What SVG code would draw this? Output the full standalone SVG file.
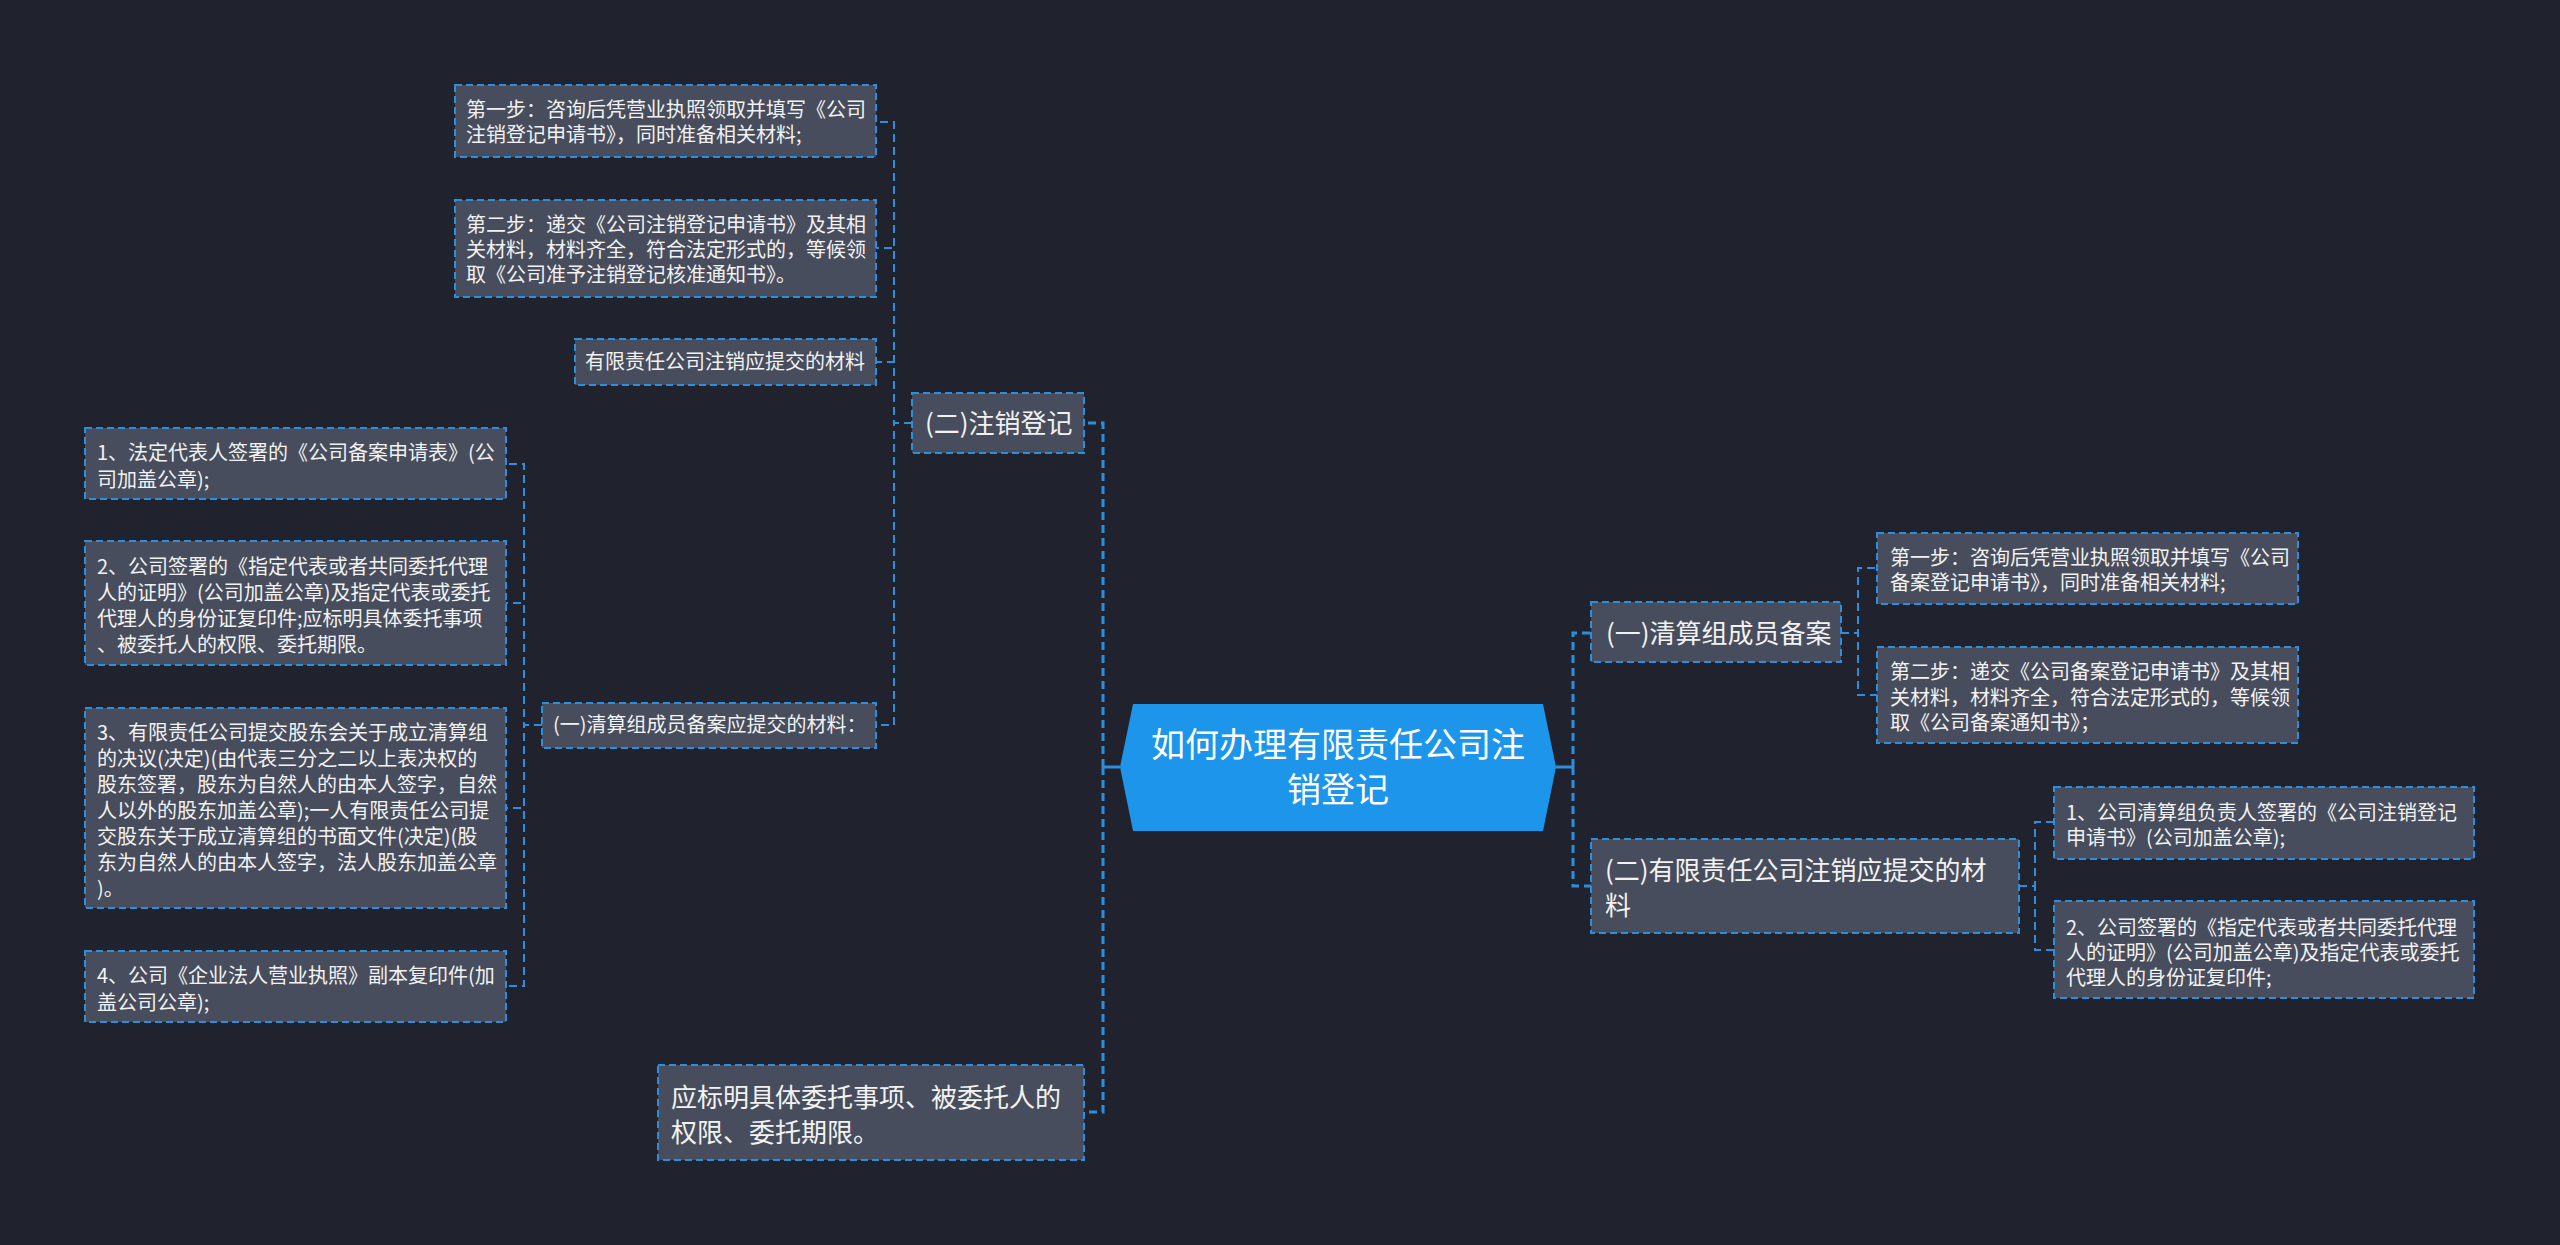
<svg xmlns="http://www.w3.org/2000/svg" width="2560" height="1245" viewBox="0 0 2560 1245">
<style>
.bg{fill:#20232e}
.box{fill:#474d5c;stroke:#2d8fdc;stroke-width:2;stroke-dasharray:7 4}
.t{font-family:"Noto Sans CJK SC","Noto Sans",sans-serif;fill:#f2f2f2}
.s{font-size:20px}
.m{font-size:26px}
.c{font-size:34px;fill:#ffffff}
.ln{fill:none;stroke:#2d8fdc;stroke-width:2;stroke-dasharray:8 5}
.ln1{fill:none;stroke:#2d8fdc;stroke-width:3;stroke-dasharray:8 5}
.solid{fill:none;stroke:#2d8fdc;stroke-width:3}
</style>
<rect class="bg" x="0" y="0" width="2560" height="1245"/>

<g id="connectors">
  <path class="solid" d="M1120,767 H1103"/>
  <path class="solid" d="M1556,767 H1573"/>
  <path class="ln1" d="M1103,767 V423 H1084"/>
  <path class="ln1" d="M1103,767 V1112 H1084"/>
  <path class="ln1" d="M1573,767 V633 H1591"/>
  <path class="ln1" d="M1573,767 V886 H1591"/>
  <path class="ln" d="M912,423 H894 V122 H876"/>
  <path class="ln" d="M912,423 H894 V248 H876"/>
  <path class="ln" d="M912,423 H894 V362 H876"/>
  <path class="ln" d="M912,423 H894 V725 H876"/>
  <path class="ln" d="M542,725 H524 V464 H506"/>
  <path class="ln" d="M542,725 H524 V603 H506"/>
  <path class="ln" d="M542,725 H524 V808 H506"/>
  <path class="ln" d="M542,725 H524 V986 H506"/>
  <path class="ln" d="M1841,633 H1858 V568 H1877"/>
  <path class="ln" d="M1841,633 H1858 V695 H1877"/>
  <path class="ln" d="M2019,886 H2035 V822 H2054"/>
  <path class="ln" d="M2019,886 H2035 V950 H2054"/>
</g>

<g id="root">
  <path d="M1133,704 H1543 L1556,767 L1543,831 H1133 L1120,767 Z" fill="#1c95ea"/>
  <text class="t c" text-anchor="middle"><tspan x="1338" y="757">如何办理有限责任公司注</tspan><tspan x="1338" y="802">销登记</tspan></text>
</g>

<g id="n-zhuxiao">
  <rect class="box" x="912" y="393" width="172" height="60"/>
  <text class="t m" x="925" y="433">(二)注销登记</text>
</g>

<g id="n-biaoming">
  <rect class="box" x="658" y="1065" width="426" height="95"/>
  <text class="t m"><tspan x="671" y="1107">应标明具体委托事项、被委托人的</tspan><tspan x="671" y="1142">权限、委托期限。</tspan></text>
</g>

<g id="n-step1-l">
  <rect class="box" x="455" y="85" width="421" height="72"/>
  <text class="t s"><tspan x="466" y="117">第一步：咨询后凭营业执照领取并填写《公司</tspan><tspan x="466" y="142">注销登记申请书》，同时准备相关材料;</tspan></text>
</g>

<g id="n-step2-l">
  <rect class="box" x="455" y="200" width="421" height="97"/>
  <text class="t s"><tspan x="466" y="232">第二步：递交《公司注销登记申请书》及其相</tspan><tspan x="466" y="257">关材料，材料齐全，符合法定形式的，等候领</tspan><tspan x="466" y="282">取《公司准予注销登记核准通知书》。</tspan></text>
</g>

<g id="n-cailiao">
  <rect class="box" x="575" y="339" width="301" height="46"/>
  <text class="t s" x="585" y="369">有限责任公司注销应提交的材料</text>
</g>

<g id="n-qingsuan-l">
  <rect class="box" x="542" y="703" width="334" height="45"/>
  <text class="t s" x="553" y="732">(一)清算组成员备案应提交的材料：</text>
</g>

<g id="n-item1-l">
  <rect class="box" x="85" y="428" width="421" height="71"/>
  <text class="t s"><tspan x="97" y="460">1、法定代表人签署的《公司备案申请表》(公</tspan><tspan x="97" y="487">司加盖公章);</tspan></text>
</g>

<g id="n-item2-l">
  <rect class="box" x="85" y="541" width="421" height="124"/>
  <text class="t s"><tspan x="97" y="574">2、公司签署的《指定代表或者共同委托代理</tspan><tspan x="97" y="600">人的证明》(公司加盖公章)及指定代表或委托</tspan><tspan x="97" y="626">代理人的身份证复印件;应标明具体委托事项</tspan><tspan x="97" y="652">、被委托人的权限、委托期限。</tspan></text>
</g>

<g id="n-item3-l">
  <rect class="box" x="85" y="708" width="421" height="200"/>
  <text class="t s"><tspan x="97" y="740">3、有限责任公司提交股东会关于成立清算组</tspan><tspan x="97" y="766">的决议(决定)(由代表三分之二以上表决权的</tspan><tspan x="97" y="792">股东签署，股东为自然人的由本人签字，自然</tspan><tspan x="97" y="818">人以外的股东加盖公章);一人有限责任公司提</tspan><tspan x="97" y="844">交股东关于成立清算组的书面文件(决定)(股</tspan><tspan x="97" y="870">东为自然人的由本人签字，法人股东加盖公章</tspan><tspan x="97" y="896">)。</tspan></text>
</g>

<g id="n-item4-l">
  <rect class="box" x="85" y="951" width="421" height="71"/>
  <text class="t s"><tspan x="97" y="983">4、公司《企业法人营业执照》副本复印件(加</tspan><tspan x="97" y="1010">盖公司公章);</tspan></text>
</g>

<g id="n-qingsuan-r">
  <rect class="box" x="1591" y="602" width="250" height="60"/>
  <text class="t m" x="1606" y="643">(一)清算组成员备案</text>
</g>

<g id="n-step1-r">
  <rect class="box" x="1877" y="533" width="421" height="71"/>
  <text class="t s"><tspan x="1890" y="565">第一步：咨询后凭营业执照领取并填写《公司</tspan><tspan x="1890" y="590">备案登记申请书》，同时准备相关材料;</tspan></text>
</g>

<g id="n-step2-r">
  <rect class="box" x="1877" y="647" width="421" height="96"/>
  <text class="t s"><tspan x="1890" y="679">第二步：递交《公司备案登记申请书》及其相</tspan><tspan x="1890" y="705">关材料，材料齐全，符合法定形式的，等候领</tspan><tspan x="1890" y="730">取《公司备案通知书》；</tspan></text>
</g>

<g id="n-cailiao-r">
  <rect class="box" x="1591" y="839" width="428" height="94"/>
  <text class="t m"><tspan x="1605" y="880">(二)有限责任公司注销应提交的材</tspan><tspan x="1605" y="915">料</tspan></text>
</g>

<g id="n-item1-r">
  <rect class="box" x="2054" y="787" width="420" height="72"/>
  <text class="t s"><tspan x="2066" y="820">1、公司清算组负责人签署的《公司注销登记</tspan><tspan x="2066" y="845">申请书》(公司加盖公章);</tspan></text>
</g>

<g id="n-item2-r">
  <rect class="box" x="2054" y="901" width="420" height="97"/>
  <text class="t s"><tspan x="2066" y="935">2、公司签署的《指定代表或者共同委托代理</tspan><tspan x="2066" y="960">人的证明》(公司加盖公章)及指定代表或委托</tspan><tspan x="2066" y="985">代理人的身份证复印件;</tspan></text>
</g>
</svg>
